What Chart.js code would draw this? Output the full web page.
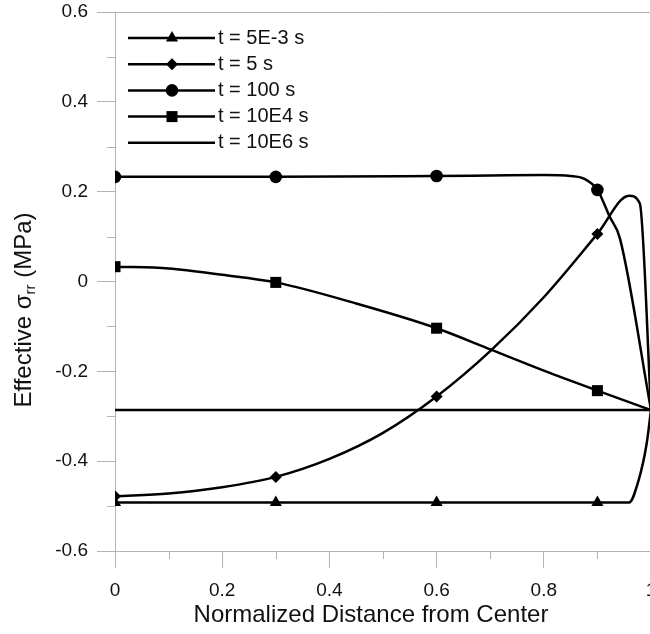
<!DOCTYPE html>
<html>
<head>
<meta charset="utf-8">
<script src="https://cdn.jsdelivr.net/npm/chart.js@4/dist/chart.umd.min.js"></script>
<style>
html, body { margin: 0; padding: 0; overflow: hidden; background: #fff; }
#wrap { position: relative; width: 651px; height: 634px; }
</style>
</head>
<body>
<div id="wrap"><canvas id="grafico"></canvas></div>
<script>
// === DATI ===
const etichette = ['t = 5E-3 s', 't = 5 s', 't = 100 s', 't = 10E4 s', 't = 10E6 s'];
const xMarcatori = [0, 0.3, 0.6, 0.9];

const xTriangoli = [0, 0.3, 0.6, 0.9, 0.959, 0.977, 0.992, 1];
const yTriangoli = [-0.492, -0.492, -0.492, -0.492, -0.492, -0.442, -0.36, -0.286];

const xRombi = [0, 0.1, 0.2, 0.3, 0.4, 0.5, 0.6, 0.7, 0.8, 0.9, 0.959, 0.979, 1];
const yRombi = [-0.478, -0.472, -0.458, -0.435, -0.395, -0.337, -0.256, -0.155, -0.035, 0.106, 0.191, 0.174, -0.286];

const xCerchi = [0, 0.3, 0.6, 0.7, 0.8, 0.85, 0.875, 0.9, 0.923, 0.942, 1];
const yCerchi = [0.233, 0.233, 0.235, 0.236, 0.237, 0.235, 0.229, 0.204, 0.144, 0.096, -0.286];

const xQuadrati = [0, 0.1, 0.2, 0.3, 0.45, 0.6, 0.7, 0.81, 0.9, 1];
const yQuadrati = [0.033, 0.029, 0.015, -0.002, -0.049, -0.104, -0.151, -0.203, -0.243, -0.286];

const xPiatta = [0, 1];
const yPiatta = [-0.286, -0.286];

const yTicks = { min: -0.6, max: 0.6, step: 0.2 };
const xTicks = { min: 0, max: 1, step: 0.2 };

const titoloX = 'Normalized Distance from Center';
const titoloY = ['Effective σ', 'rr', ' (MPa)'];

// === HELPER ===
function punti(xs, ys) {
    return xs.map((x, i) => ({ x: x, y: ys[i] }));
}
function serie(label, xs, ys, stile, raggio) {
    return {
        label: label,
        data: punti(xs, ys),
        borderColor: '#000',
        backgroundColor: '#000',
        borderWidth: 2.5,
        cubicInterpolationMode: 'monotone',
        pointStyle: stile,
        pointBorderWidth: 0,
        pointRadius: c => (stile && xMarcatori.includes(c.raw.x)) ? raggio : 0,
        pointHoverRadius: 0,
        legendRadius: raggio
    };
}
function formato(v) {
    return String(Math.round(v * 10) / 10);
}

const grigio = '#b4b4b4';
const testo = '#111';
const font = 'Liberation Sans, Arial, sans-serif';

// tacche minori, legenda e titoli degli assi
const decorazioni = {
    id: 'decorazioni',
    afterDraw(chart) {
        const c = chart.ctx;
        const a = chart.chartArea;
        const sx = chart.scales.x, sy = chart.scales.y;
        c.save();
        c.strokeStyle = grigio;
        c.lineWidth = 1;
        for (let i = 0; i < sy.ticks.length - 1; i++) {
            const y = Math.round(sy.getPixelForValue((sy.ticks[i].value + sy.ticks[i + 1].value) / 2)) + 0.5;
            c.beginPath(); c.moveTo(a.left - 8, y); c.lineTo(a.left, y); c.stroke();
        }
        for (let i = 0; i < sx.ticks.length - 1; i++) {
            const x = Math.round(sx.getPixelForValue((sx.ticks[i].value + sx.ticks[i + 1].value) / 2)) + 0.5;
            c.beginPath(); c.moveTo(x, a.bottom); c.lineTo(x, a.bottom + 8); c.stroke();
        }
        // legenda
        c.font = '20px ' + font;
        c.textBaseline = 'middle';
        chart.data.datasets.forEach((ds, i) => {
            const y = 38 + i * 26.2;
            c.strokeStyle = '#000';
            c.lineWidth = 2.5;
            c.beginPath(); c.moveTo(128, y); c.lineTo(215, y); c.stroke();
            if (ds.pointStyle) {
                c.fillStyle = '#000';
                Chart.helpers.drawPoint(c, { pointStyle: ds.pointStyle, radius: ds.legendRadius, borderWidth: 0 }, 172, y);
            }
            c.fillStyle = testo;
            c.fillText(ds.label, 218, y);
        });
        // titolo asse x
        c.fillStyle = testo;
        c.textAlign = 'center';
        c.font = '24px ' + font;
        c.fillText(titoloX, 371, 615);
        // titolo asse y con pedice
        c.textAlign = 'left';
        c.translate(24, 310);
        c.rotate(-Math.PI / 2);
        c.font = '24px ' + font;
        const w1 = c.measureText(titoloY[0]).width, w3 = c.measureText(titoloY[2]).width;
        c.font = '15px ' + font;
        const w2 = c.measureText(titoloY[1]).width;
        const x0 = -(w1 + w2 + w3) / 2;
        c.font = '24px ' + font;
        c.fillText(titoloY[0], x0, 0);
        c.font = '15px ' + font;
        c.fillText(titoloY[1], x0 + w1, 7);
        c.font = '24px ' + font;
        c.fillText(titoloY[2], x0 + w1 + w2, 0);
        c.restore();
    }
};

// === GRAFICO ===
const ctx = document.getElementById('grafico').getContext('2d');
const chart = new Chart(ctx, {
    type: 'line',
    data: {
        datasets: [
            serie(etichette[0], xTriangoli, yTriangoli, 'triangle', 7),
            serie(etichette[1], xRombi, yRombi, 'rectRot', 6),
            serie(etichette[2], xCerchi, yCerchi, 'circle', 6.3),
            serie(etichette[3], xQuadrati, yQuadrati, 'rect', 7.8),
            serie(etichette[4], xPiatta, yPiatta, false, 0)
        ]
    },
    options: {
        responsive: true,
        maintainAspectRatio: false,
        animation: false,
        layout: { autoPadding: false, padding: { left: 0, right: 0, top: 12, bottom: 0 } },
        plugins: {
            legend: { display: false },
            tooltip: { enabled: false }
        },
        scales: {
            x: {
                type: 'linear',
                min: xTicks.min,
                max: xTicks.max,
                border: { color: grigio, width: 1 },
                grid: { drawOnChartArea: false, tickLength: 17, tickColor: grigio },
                ticks: { stepSize: xTicks.step, color: testo, font: { family: font, size: 19 }, padding: 11, callback: formato },
                afterFit(scale) { scale.height = 83; scale.paddingLeft = 0; scale.paddingRight = 0; }
            },
            y: {
                type: 'linear',
                min: yTicks.min,
                max: yTicks.max,
                border: { color: grigio, width: 1 },
                grid: {
                    color: c => (c.tick && c.tick.value === yTicks.max) ? grigio : 'rgba(0,0,0,0)',
                    tickColor: grigio,
                    tickLength: 18
                },
                ticks: { stepSize: yTicks.step, color: testo, font: { family: font, size: 19 }, padding: 9, callback: formato },
                afterFit(scale) { scale.width = 115; scale.paddingTop = 0; scale.paddingBottom = 0; }
            }
        }
    },
    plugins: [decorazioni]
});
</script>
</body>
</html>
